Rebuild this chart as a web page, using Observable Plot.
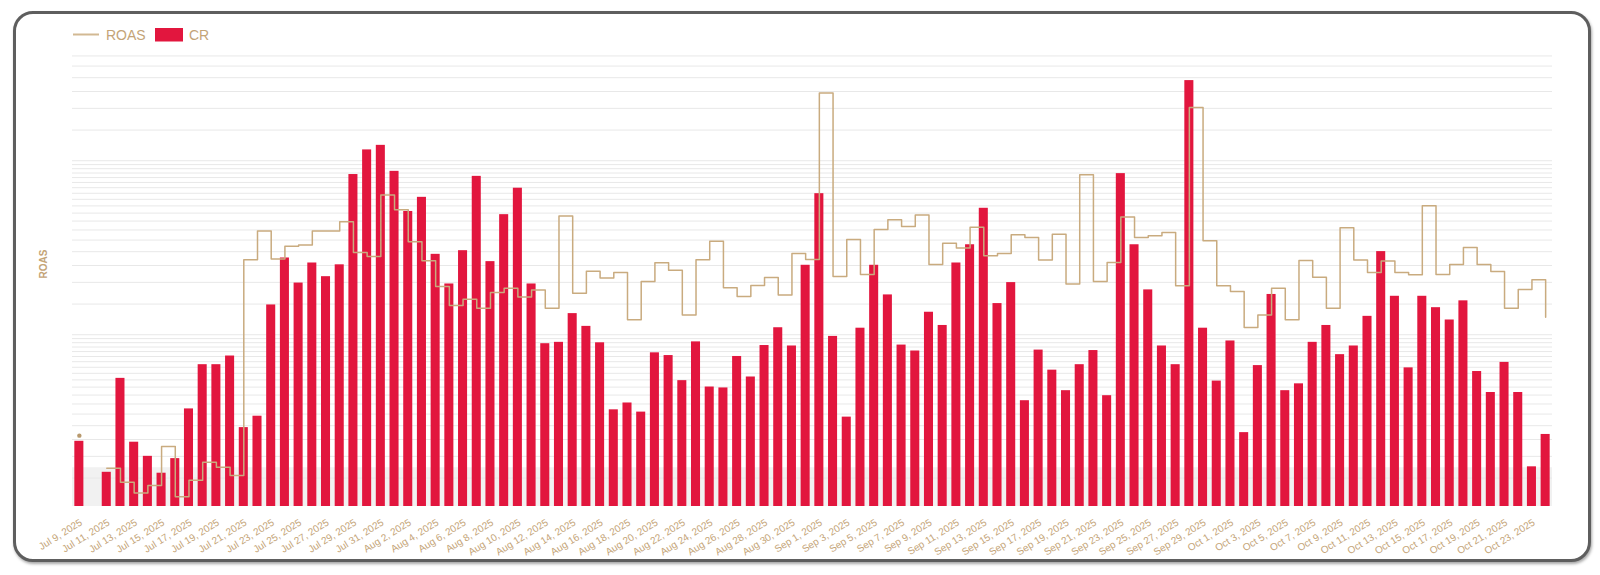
<!DOCTYPE html>
<html>
<head>
<meta charset="utf-8">
<script src="https://cdn.jsdelivr.net/npm/d3@7"></script>
<script src="https://cdn.jsdelivr.net/npm/@observablehq/plot@0.6"></script>
<style>
html, body { margin:0; padding:0; background:#fff; width:1600px; height:575px; overflow:hidden; font-family:"Liberation Sans", Arial, sans-serif; }
#frame { position:absolute; left:13px; top:11px; width:1572px; height:545px; border:3px solid #5e5e5e; border-radius:20px; box-shadow:1px 2px 3px rgba(0,0,0,0.35); background:#fff; }
#chart svg { position:absolute; left:0; top:0; }
#legend { position:absolute; left:0; top:0; }
</style>
</head>
<body>
<div id="frame"></div>
<div id="chart"></div>
<svg id="legend" width="260" height="60"></svg>
<script>
// ---- data ----
const dates = d3.utcDay.range(new Date(Date.UTC(2025, 6, 9)), new Date(Date.UTC(2025, 9, 25))); // Jul 9 .. Oct 24, 2025

const crValues = [
  // Jul 9 - Jul 31
  1.43, null, 0.75, 2.81, 1.41, 1.10, 0.73, 1.05, 2.14, 3.11, 3.11, 3.30, 1.73, 1.98, 4.42, 5.45, 4.90, 5.34, 5.04, 5.30, 7.28, 7.82, 7.92,
  // Aug 1 - Aug 31
  7.35, 6.47, 6.78, 5.53, 4.88, 5.61, 7.24, 5.37, 6.40, 6.98, 4.88, 3.57, 3.60, 4.23, 3.95, 3.59, 2.12, 2.27, 2.07, 3.37, 3.31, 2.76, 3.61, 2.62, 2.60, 3.29, 2.84, 3.53, 3.92, 3.52, 5.29,
  // Sep 1 - Sep 30
  6.86, 3.73, 1.96, 3.91, 5.29, 4.64, 3.54, 3.41, 4.26, 3.97, 5.34, 5.74, 6.54, 4.45, 4.91, 2.32, 3.43, 2.99, 2.54, 3.11, 3.42, 2.43, 7.30, 5.74, 4.75, 3.52, 3.11, 9.34, 3.91, 2.75,
  // Oct 1 - Oct 24
  3.63, 1.62, 3.09, 4.65, 2.54, 2.69, 3.60, 3.97, 3.33, 3.52, 4.17, 5.59, 4.61, 3.04, 4.61, 4.36, 4.09, 4.51, 2.96, 2.50, 3.16, 2.50, 0.87, 1.58
];

const roasValues = [
  // Jul 9 - Jul 31
  0.263, null, 0.171, 0.142, 0.123, 0.136, 0.228, 0.117, 0.146, 0.185, 0.173, 0.155, 2.70, 3.95, 2.72, 3.22, 3.28, 3.95, 3.95, 4.46, 2.97, 2.82, 6.35,
  // Aug 1 - Aug 31
  5.23, 3.42, 2.66, 1.89, 1.47, 1.60, 1.42, 1.75, 1.85, 1.65, 1.81, 1.42, 4.81, 1.73, 2.32, 2.12, 2.28, 1.22, 2.02, 2.59, 2.35, 1.30, 2.70, 3.44, 1.86, 1.66, 1.92, 2.13, 1.69, 2.93, 2.71,
  // Sep 1 - Sep 30
  24.5, 2.16, 3.53, 2.22, 4.03, 4.58, 4.19, 4.88, 2.53, 3.35, 3.15, 4.14, 2.84, 2.93, 3.76, 3.62, 2.69, 3.78, 1.96, 8.31, 2.02, 2.60, 4.75, 3.62, 3.71, 3.87, 1.91, 20.2, 3.47, 1.91,
  // Oct 1 - Oct 24
  1.77, 1.10, 1.30, 1.85, 1.22, 2.67, 2.14, 1.42, 4.12, 2.69, 2.28, 2.65, 2.28, 2.21, 5.51, 2.22, 2.53, 3.17, 2.53, 2.31, 1.42, 1.82, 2.07, 1.26
];

const roasDomain = [0.103, 43];
const crDomain = [0, 10];
const gridMultipliers = [1, 1.5, 2, 2.5, 3, 3.5, 4, 4.5, 5, 5.5, 6, 6.5, 7, 7.5, 8, 8.5, 9, 9.5];
const gridDecades = [0.1, 1, 10];
const lowBand = [{from: 0.103, to: 0.172}];

const tickDates = dates.filter((d, i) => i % 2 === 0);
const fmt = d3.utcFormat("%b %-d, %Y");

// ---- derived ----
const rows = dates.map((date, i) => ({date, cr: crValues[i], roas: roasValues[i]}));
const isolated = rows.filter((r, i) => r.roas != null &&
  (i === 0 || rows[i - 1].roas == null) && (i === rows.length - 1 || rows[i + 1].roas == null));
const gridTicks = gridDecades.flatMap(d => gridMultipliers.map(m => +(m * d).toPrecision(3)))
  .filter(v => v >= roasDomain[0] && v <= roasDomain[1]);

// ---- style ----
const RED = "#e2163e";
const TAN = "#c9ab7f";
const TAN_TEXT = "#c4a477";

const common = {
  width: 1600, height: 575,
  marginTop: 50, marginBottom: 69, marginLeft: 72, marginRight: 48,
  style: {background: "transparent", fontFamily: "Liberation Sans, Arial, sans-serif", overflow: "visible"}
};
const xScale = {type: "band", domain: dates, paddingInner: 0.34, paddingOuter: 0.17, align: 0.5};

// Layer 1: grid, x axis, y label
const gridPlot = Plot.plot({
  ...common,
  x: {...xScale},
  y: {type: "log", domain: roasDomain, axis: null},
  marks: [
    Plot.rect(lowBand, {y1: "from", y2: "to", fill: "#f1f1f1"}),
    Plot.ruleY(gridTicks, {stroke: "#e8e8e8", strokeWidth: 1}),
    Plot.axisX(tickDates, {tickFormat: fmt, tickRotate: -32, tickSize: 0, tickPadding: 15, dx: 2,
      fill: TAN_TEXT, fontSize: 10, label: null}),
    Plot.text(["ROAS"], {text: d => d, frameAnchor: "left", dx: -29, rotate: -90,
      fill: TAN_TEXT, fontSize: 10, fontWeight: "bold"})
  ]
});

// Layer 2: CR bars
const barPlot = Plot.plot({
  ...common,
  x: {...xScale, axis: null},
  y: {domain: crDomain, axis: null},
  marks: [
    Plot.barY(rows.filter(r => r.cr != null), {x: "date", y: "cr", fill: RED})
  ]
});

// Layer 3: ROAS step line
const linePlot = Plot.plot({
  ...common,
  x: {...xScale, axis: null},
  y: {type: "log", domain: roasDomain, axis: null},
  marks: [
    Plot.line(rows, {x: "date", y: "roas", curve: "step-after", stroke: TAN, strokeWidth: 1.5}),
    Plot.dot(isolated, {x: "date", y: "roas", r: 2.2, fill: "#b8996d"})
  ]
});

const chart = document.getElementById("chart");
chart.append(gridPlot, barPlot, linePlot);

// Legend
const legend = d3.select("#legend");
legend.append("line").attr("x1", 73).attr("x2", 99).attr("y1", 34.5).attr("y2", 34.5)
  .attr("stroke", "#d2b993").attr("stroke-width", 2);
legend.append("text").attr("x", 106).attr("y", 39.5).attr("font-size", 14)
  .attr("font-family", "Liberation Sans, Arial, sans-serif").attr("fill", TAN_TEXT).text("ROAS");
legend.append("rect").attr("x", 155).attr("y", 28).attr("width", 28).attr("height", 13.5).attr("fill", RED);
legend.append("text").attr("x", 189).attr("y", 39.5).attr("font-size", 14)
  .attr("font-family", "Liberation Sans, Arial, sans-serif").attr("fill", TAN_TEXT).text("CR");
</script>
</body>
</html>
